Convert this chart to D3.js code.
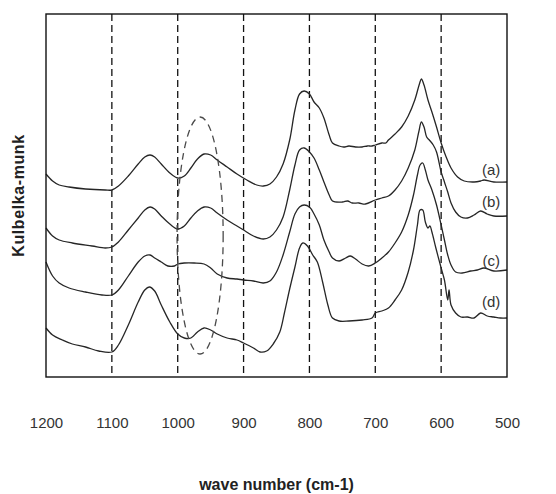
<!DOCTYPE html>
<html>
<head>
<meta charset="utf-8">
<script src="https://cdn.jsdelivr.net/npm/d3@7"></script>
<style>
  html, body { margin: 0; padding: 0; background: #fff; }
  svg { display: block; }
  text { font-family: "Liberation Sans", Arial, Helvetica, sans-serif; }
</style>
</head>
<body>
<svg id="chart" width="556" height="494"></svg>
<script>
// Diffuse reflectance spectra, Kubelka-Munk units (arbitrary, curves offset vertically)
const spectrumA = [
  [1200,2.03],[1190,1.96],[1180,1.92],[1165,1.90],[1140,1.88],[1110,1.87],[1100,1.87],[1090,1.91],
  [1075,2.01],[1060,2.13],[1050,2.20],[1042,2.22],[1035,2.20],[1025,2.13],[1012,2.04],[1000,1.99],
  [990,2.01],[980,2.09],[970,2.18],[960,2.23],[950,2.22],[940,2.17],[925,2.10],[910,2.03],[895,1.97],
  [880,1.92],[870,1.91],[860,1.93],[850,2.00],[840,2.13],[830,2.37],[822,2.67],[815,2.83],[808,2.86],
  [800,2.83],[793,2.75],[785,2.69],[778,2.59],[770,2.42],[765,2.34],[755,2.31],[748,2.30],[740,2.31],
  [730,2.30],[720,2.30],[712,2.31],[705,2.31],[700,2.32],[690,2.34],[684,2.34],[680,2.37],[670,2.43],
  [660,2.50],[650,2.61],[640,2.77],[633,2.93],[630,2.98],[626,2.92],[620,2.77],[614,2.65],[607,2.50],
  [600,2.34],[593,2.21],[585,2.09],[575,2.00],[565,1.96],[550,1.95],[540,1.96],[535,1.97],[520,1.95],[500,1.95]
];
const spectrumB = [
  [1200,1.49],[1190,1.41],[1180,1.37],[1160,1.34],[1130,1.31],[1110,1.29],[1100,1.30],[1090,1.35],
  [1075,1.47],[1060,1.59],[1050,1.67],[1042,1.70],[1035,1.68],[1025,1.61],[1012,1.53],[1000,1.48],
  [990,1.51],[980,1.59],[970,1.66],[960,1.70],[950,1.69],[940,1.64],[925,1.57],[910,1.51],[900,1.47],
  [885,1.41],[870,1.38],[860,1.40],[850,1.47],[840,1.60],[830,1.87],[822,2.12],[815,2.27],[808,2.29],
  [800,2.25],[793,2.19],[785,2.07],[778,1.95],[770,1.82],[765,1.76],[750,1.75],[742,1.76],[735,1.74],
  [725,1.74],[715,1.73],[700,1.77],[690,1.79],[680,1.81],[670,1.87],[660,1.96],[650,2.09],[640,2.27],
  [634,2.45],[630,2.55],[626,2.50],[622,2.40],[618,2.37],[612,2.32],[607,2.25],[600,2.05],[595,1.95],
  [590,1.85],[585,1.74],[578,1.65],[570,1.60],[560,1.59],[550,1.62],[540,1.66],[530,1.63],[520,1.61],[500,1.61]
];
const spectrumC = [
  [1200,1.15],[1190,1.01],[1180,0.94],[1165,0.89],[1140,0.85],[1115,0.82],[1100,0.82],[1090,0.87],
  [1075,1.01],[1060,1.15],[1050,1.21],[1042,1.22],[1035,1.19],[1025,1.15],[1015,1.11],[1005,1.11],
  [1000,1.13],[990,1.14],[975,1.14],[960,1.13],[950,1.09],[940,1.03],[925,0.99],[910,0.98],[900,0.97],
  [885,0.96],[870,0.94],[860,0.96],[850,1.05],[840,1.22],[830,1.45],[822,1.63],[815,1.70],[808,1.72],
  [800,1.70],[793,1.63],[785,1.52],[778,1.37],[770,1.25],[765,1.19],[755,1.16],[745,1.19],[738,1.21],
  [730,1.18],[720,1.13],[710,1.11],[700,1.14],[690,1.19],[680,1.25],[670,1.34],[660,1.45],[650,1.62],
  [642,1.82],[636,2.02],[632,2.12],[628,2.14],[624,2.07],[620,1.97],[614,1.87],[607,1.72],[600,1.52],
  [595,1.37],[590,1.22],[585,1.12],[578,1.05],[568,1.04],[555,1.06],[545,1.07],[535,1.09],[520,1.06],[500,1.07]
];
const spectrumD = [
  [1200,0.49],[1190,0.42],[1175,0.37],[1160,0.33],[1140,0.30],[1120,0.26],[1100,0.25],[1090,0.32],
  [1075,0.52],[1060,0.75],[1050,0.87],[1043,0.90],[1035,0.86],[1025,0.72],[1012,0.55],[1000,0.43],
  [990,0.39],[980,0.39],[970,0.45],[960,0.49],[950,0.47],[940,0.43],[925,0.39],[910,0.37],[900,0.34],
  [885,0.29],[875,0.25],[865,0.26],[855,0.33],[845,0.45],[838,0.64],[830,0.88],[822,1.10],[815,1.29],
  [810,1.34],[803,1.31],[795,1.22],[788,1.15],[780,0.95],[772,0.72],[765,0.59],[755,0.56],[740,0.56],
  [720,0.57],[705,0.59],[700,0.64],[690,0.66],[680,0.69],[670,0.77],[660,0.87],[650,1.05],[642,1.27],
  [636,1.52],[632,1.67],[628,1.67],[624,1.55],[620,1.49],[617,1.51],[614,1.45],[608,1.29],[600,1.09],
  [595,0.97],[590,0.77],[588,0.87],[585,0.72],[578,0.64],[570,0.60],[560,0.60],[550,0.59],[540,0.64],
  [530,0.61],[520,0.60],[510,0.59],[500,0.59]
];

const seriesNames = ["(a)", "(b)", "(c)", "(d)"];
const labelWavenumber = 524;
const labelValues = [2.07, 1.75, 1.16, 0.75];

const xTicks = [1200, 1100, 1000, 900, 800, 700, 600, 500];
const gridWavenumbers = [1100, 1000, 900, 800, 700, 600];

// highlighted region around the 960 cm-1 band
const ellipseCenter = [966, 1.415];
const ellipseRadius = [35, 1.185];

const svg = d3.select("#chart");
const margin = { left: 46, right: 49, top: 14, bottom: 117 };
const W = 556, H = 494;

const x = d3.scaleLinear().domain([1200, 500]).range([margin.left, W - margin.right]);
const y = d3.scaleLinear().domain([0, 3.63]).range([H - margin.bottom, margin.top]);

// vertical dashed guide lines
svg.append("g")
  .selectAll("line")
  .data(gridWavenumbers)
  .join("line")
  .attr("x1", d => x(d)).attr("x2", d => x(d))
  .attr("y1", y.range()[1]).attr("y2", y.range()[0])
  .attr("stroke", "#111")
  .attr("stroke-width", 1.3)
  .attr("stroke-dasharray", "7,4");

// spectra
const line = d3.line()
  .x(d => x(d[0]))
  .y(d => y(d[1]))
  .curve(d3.curveCatmullRom.alpha(0.5));

svg.append("g")
  .selectAll("path")
  .data([spectrumA, spectrumB, spectrumC, spectrumD])
  .join("path")
  .attr("d", line)
  .attr("fill", "none")
  .attr("stroke", "#262626")
  .attr("stroke-width", 1.3)
  .attr("stroke-linejoin", "round");

// dashed ellipse
svg.append("ellipse")
  .attr("cx", x(ellipseCenter[0]))
  .attr("cy", y(ellipseCenter[1]))
  .attr("rx", Math.abs(x(ellipseCenter[0] - ellipseRadius[0]) - x(ellipseCenter[0])))
  .attr("ry", Math.abs(y(ellipseCenter[1] + ellipseRadius[1]) - y(ellipseCenter[1])))
  .attr("fill", "none")
  .attr("stroke", "#4a4a4a")
  .attr("stroke-width", 1.3)
  .attr("stroke-dasharray", "7,5");

// plot frame
svg.append("rect")
  .attr("x", x(1200)).attr("y", y(3.63))
  .attr("width", x(500) - x(1200))
  .attr("height", y(0) - y(3.63))
  .attr("fill", "none")
  .attr("stroke", "#111")
  .attr("stroke-width", 1.4);

// x axis labels only (no tick marks, no domain line)
const xAxis = d3.axisBottom(x).tickValues(xTicks).tickSize(0).tickPadding(0).tickFormat(d3.format("d"));
const gx = svg.append("g")
  .attr("transform", `translate(0,${y(0) + 40})`)
  .call(xAxis);
gx.select(".domain").remove();
gx.selectAll("text")
  .attr("font-size", 15)
  .attr("fill", "#333")
  .attr("font-family", "Liberation Sans, Arial, sans-serif");

// series labels
svg.append("g")
  .selectAll("text")
  .data(seriesNames)
  .join("text")
  .attr("x", x(labelWavenumber))
  .attr("y", (d, i) => y(labelValues[i]))
  .attr("dy", "0.35em")
  .attr("text-anchor", "middle")
  .attr("font-size", 15)
  .attr("fill", "#333")
  .text(d => d);

// axis titles
svg.append("text")
  .attr("x", (x(1200) + x(500)) / 2)
  .attr("y", 490)
  .attr("text-anchor", "middle")
  .attr("font-size", 16)
  .attr("font-weight", "bold")
  .attr("fill", "#222")
  .text("wave number (cm-1)");

svg.append("text")
  .attr("transform", `translate(24,${(y(0) + y(3.63)) / 2}) rotate(-90)`)
  .attr("text-anchor", "middle")
  .attr("font-size", 16)
  .attr("font-weight", "bold")
  .attr("letter-spacing", 0.6)
  .attr("fill", "#222")
  .text("Kulbelka-munk");
</script>
</body>
</html>
